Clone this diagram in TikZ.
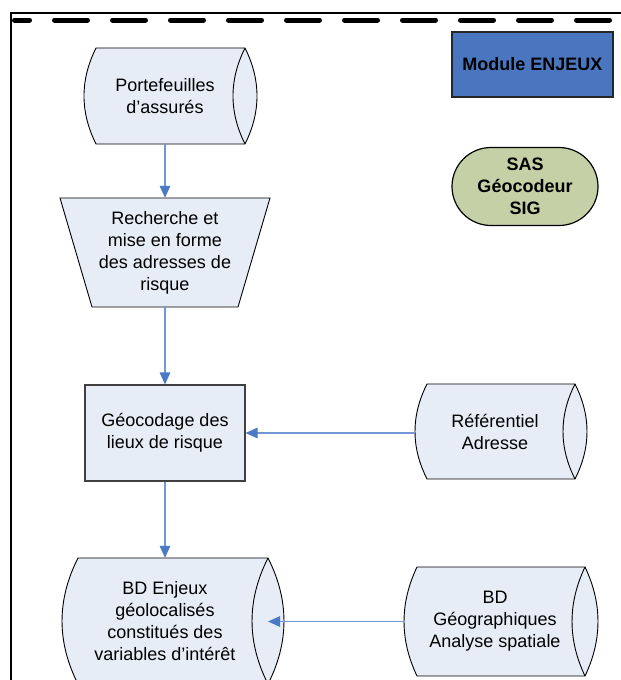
\documentclass[tikz,border=0pt]{standalone}
\usepackage{fontspec}
\setmainfont{Liberation Sans}
\usetikzlibrary{arrows.meta}
\definecolor{cylblue}{HTML}{E7EDF7}
\definecolor{modblue}{HTML}{4A76C0}
\definecolor{sasgreen}{HTML}{C6D0A6}
\definecolor{arrowblue}{HTML}{4A7AC6}
\definecolor{linkblue}{HTML}{7198D4}
\definecolor{boxgrey}{HTML}{404040}
\tikzset{
  shapeline/.style={fill=cylblue, draw=black, line width=0.9pt},
  txt/.style={font=\fontsize{18}{22}\selectfont, align=center, inner sep=0pt},
  boldtxt/.style={font=\fontsize{18}{22}\selectfont\bfseries, align=center, inner sep=0pt},
  conn/.style={draw=linkblue, line width=1.4pt, -{Triangle[length=12pt,width=10.5pt,color=arrowblue,fill=arrowblue]}},
  framethin/.style={draw=black, line width=1.8pt},
  framedash/.style={draw=black, line width=5pt, line cap=round, dash pattern=on 33pt off 25pt, dash phase=18pt},
}
\begin{document}
\begin{tikzpicture}[x=1pt,y=-1pt]
\useasboundingbox (0,0) rectangle (621,680);

% frame
\draw[framethin] (11,680) -- (11,13) -- (621,13);
\draw[framedash] (14.5,20) -- (621,20);

% Portefeuilles cylinder
\path[shapeline] (96,48) -- (245,48) .. controls (261,80) and (261,112) .. (245,144)
  -- (96,144) .. controls (80,112) and (80,80) .. (96,48) -- cycle;
\draw[line width=0.9pt] (245,48) .. controls (229,80) and (229,112) .. (245,144);
\node[txt, minimum width=140pt, minimum height=96pt] (port) at (165,96) {Portefeuilles\\d’assurés};

% Recherche trapezoid
\path[shapeline] (60,198) -- (270,198) -- (238,307) -- (92,307) -- cycle;
\node[txt, minimum width=140pt, minimum height=109pt] (rech) at (165,252.5) {Recherche et\\mise en forme\\des adresses de\\risque};

% Geocodage box
\node[txt, draw=boxgrey, fill=cylblue, line width=1.1pt, minimum width=160pt, minimum height=96pt] (geo) at (165,433) {Géocodage des\\lieux de risque};

% Referentiel cylinder
\path[shapeline] (427,384) -- (575,384) .. controls (591,415.7) and (591,447.3) .. (575,479)
  -- (427,479) .. controls (411,447.3) and (411,415.7) .. (427,384) -- cycle;
\draw[line width=0.9pt] (575,384) .. controls (559,415.7) and (559,447.3) .. (575,479);
\node[txt] (ref) at (495,431.5) {Référentiel\\Adresse};
\coordinate (refW) at (415,433);

% BD Enjeux cylinder
\path[shapeline] (78,558) -- (268,558) .. controls (289.3,600) and (289.3,642) .. (268,684)
  -- (78,684) .. controls (56.7,642) and (56.7,600) .. (78,558) -- cycle;
\draw[line width=0.9pt] (268,558) .. controls (246.7,600) and (246.7,642) .. (268,684);
\node[txt, minimum width=150pt, minimum height=126pt] (enj) at (165,621) {BD Enjeux\\géolocalisés\\constitués des\\variables d’intérêt};
\coordinate (enjE) at (268,621.5);

% BD Geographiques cylinder
\path[shapeline] (417,567) -- (585,567) .. controls (602.3,603.3) and (602.3,639.7) .. (585,676)
  -- (417,676) .. controls (399.7,639.7) and (399.7,603.3) .. (417,567) -- cycle;
\draw[line width=0.9pt] (585,567) .. controls (567.7,603.3) and (567.7,639.7) .. (585,676);
\node[txt] (geog) at (495,621.5) {BD\\Géographiques\\Analyse spatiale};
\coordinate (geogW) at (404,621.5);

% Module ENJEUX
\node[boldtxt, draw=black!85, fill=modblue, line width=1.2pt, minimum width=161pt, minimum height=65pt] (mod) at (532.5,64.5) {Module ENJEUX};

% SAS
\node[boldtxt, draw=black, fill=sasgreen, line width=1.2pt, rounded corners=39pt, minimum width=146pt, minimum height=78pt] (sas) at (525,186.5) {SAS\\Géocodeur\\SIG};

% connectors
\draw[conn] (port.south) -- (rech.north);
\draw[conn] (rech.south) -- (geo.north);
\draw[conn] (geo.south) -- (enj.north);
\draw[conn] (refW) -- (geo.east);
\draw[conn] (geogW) -- (enjE);
\end{tikzpicture}
\end{document}
